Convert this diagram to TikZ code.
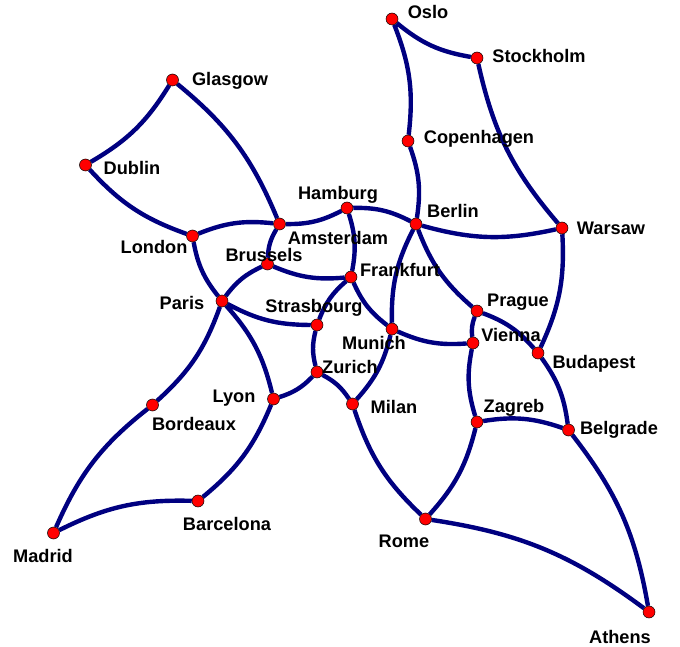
\documentclass[tikz,border=0pt]{standalone}
\usepackage{fontspec}
\setmainfont{Liberation Sans}
\pgfdeclarelayer{edges}
\pgfsetlayers{edges,main}
\definecolor{roadblue}{RGB}{0,0,128}
\tikzset{
  city/.style={circle,draw=black,line width=0.5pt,fill=red,minimum size=12pt,inner sep=0pt},
  lbl/.style={font=\fontsize{18.2}{20}\selectfont\bfseries,text=black,inner sep=0pt},
  road/.style={draw=roadblue,line width=4.4pt},
}
\begin{document}
\begin{tikzpicture}[x=1pt,y=1pt]
\useasboundingbox (0,0) rectangle (680,646);
\node[city] (Oslo) at (392,646-19) {};
\node[city] (Stockholm) at (477,646-58) {};
\node[city] (Copenhagen) at (408,646-141) {};
\node[city] (Glasgow) at (172.5,646-80) {};
\node[city] (Dublin) at (85.5,646-165) {};
\node[city] (Hamburg) at (347,646-208) {};
\node[city] (Berlin) at (416,646-224) {};
\node[city] (Warsaw) at (562,646-228) {};
\node[city] (London) at (192.5,646-236) {};
\node[city] (Amsterdam) at (279.5,646-224) {};
\node[city] (Brussels) at (267.5,646-264) {};
\node[city] (Frankfurt) at (351,646-277) {};
\node[city] (Paris) at (222,646-301) {};
\node[city] (Strasbourg) at (317,646-325) {};
\node[city] (Munich) at (392,646-329) {};
\node[city] (Prague) at (477,646-311) {};
\node[city] (Vienna) at (473,646-343) {};
\node[city] (Budapest) at (538,646-353) {};
\node[city] (Zurich) at (317,646-372) {};
\node[city] (Lyon) at (273.5,646-399) {};
\node[city] (Milan) at (352.5,646-404) {};
\node[city] (Bordeaux) at (152.5,646-405) {};
\node[city] (Zagreb) at (477,646-422) {};
\node[city] (Belgrade) at (568.5,646-430) {};
\node[city] (Barcelona) at (198,646-501) {};
\node[city] (Rome) at (425.5,646-519) {};
\node[city] (Madrid) at (53.5,646-533) {};
\node[city] (Athens) at (649,646-612) {};

\node[lbl] (tOslo) at (428,646-12) {Oslo};
\node[lbl] (tStockholm) at (539,646-56) {Stockholm};
\node[lbl] (tCopenhagen) at (479,646-139) {Copenhagen};
\node[lbl] (tGlasgow) at (230,646-81) {Glasgow};
\node[lbl] (tDublin) at (132,646-168) {Dublin};
\node[lbl] (tHamburg) at (338,646-195) {Hamburg};
\node[lbl] (tBerlin) at (453,646-211) {Berlin};
\node[lbl] (tWarsaw) at (611,646-228) {Warsaw};
\node[lbl] (tLondon) at (154,646-247) {London};
\node[lbl] (tAmsterdam) at (338,646-238) {Amsterdam};
\node[lbl] (tBrussels) at (264,646-255) {Brussels};
\node[lbl] (tFrankfurt) at (400,646-270) {Frankfurt};
\node[lbl] (tParis) at (182,646-303) {Paris};
\node[lbl] (tStrasbourg) at (314,646-308) {Strasbourg};
\node[lbl] (tMunich) at (374,646-343) {Munich};
\node[lbl] (tPrague) at (518,646-302) {Prague};
\node[lbl] (tVienna) at (511,646-335) {Vienna};
\node[lbl] (tBudapest) at (594,646-364) {Budapest};
\node[lbl] (tZurich) at (350,646-367) {Zurich};
\node[lbl] (tLyon) at (234,646-398) {Lyon};
\node[lbl] (tMilan) at (394,646-407) {Milan};
\node[lbl] (tBordeaux) at (194,646-424) {Bordeaux};
\node[lbl] (tZagreb) at (514,646-408) {Zagreb};
\node[lbl] (tBelgrade) at (619,646-430) {Belgrade};
\node[lbl] (tBarcelona) at (227,646-524) {Barcelona};
\node[lbl] (tRome) at (404,646-541) {Rome};
\node[lbl] (tMadrid) at (43,646-556) {Madrid};
\node[lbl] (tAthens) at (620,646-637) {Athens};

\begin{pgfonlayer}{edges}
\path[road]
  (Oslo) to[bend right=15] (Stockholm)
  (Oslo) to[bend left=14] (Copenhagen)
  (Copenhagen) to[bend left=14] (Berlin)
  (Stockholm) to[bend right=14] (Warsaw)
  (Glasgow) to[bend left=14] (Dublin)
  (Glasgow) to[bend left=14] (Amsterdam)
  (Dublin) to[bend right=14] (London)
  (London) to[bend left=14] (Amsterdam)
  (Amsterdam) to[bend right=14] (Hamburg)
  (Hamburg) to[bend left=14] (Berlin)
  (Berlin) to[bend right=14] (Warsaw)
  (Amsterdam) to[bend right=14] (Brussels)
  (London) to[bend right=14] (Paris)
  (Brussels) to[bend right=14] (Paris)
  (Brussels) to[bend right=14] (Frankfurt)
  (Hamburg) to[bend left=14] (Frankfurt)
  (Berlin) to[bend right=14] (Munich)
  (Berlin) to[bend right=14] (Prague)
  (Frankfurt) to[bend right=14] (Munich)
  (Frankfurt) to[bend right=14] (Strasbourg)
  (Paris) to[bend right=14] (Strasbourg)
  (Munich) to[bend right=14] (Vienna)
  (Munich) to[bend left=14] (Milan)
  (Prague) to[bend right=14] (Vienna)
  (Prague) to[bend left=14] (Budapest)
  (Warsaw) to[bend left=14] (Budapest)
  (Vienna) to[bend right=14] (Zagreb)
  (Budapest) to[bend left=14] (Belgrade)
  (Zagreb) to[bend left=14] (Belgrade)
  (Zagreb) to[bend left=14] (Rome)
  (Belgrade) to[bend left=14] (Athens)
  (Rome) to[bend left=14] (Athens)
  (Milan) to[bend right=14] (Rome)
  (Strasbourg) to[bend right=14] (Zurich)
  (Zurich) to[bend left=14] (Lyon)
  (Zurich) to[bend left=14] (Milan)
  (Paris) to[bend left=14] (Lyon)
  (Lyon) to[bend left=14] (Barcelona)
  (Paris) to[bend left=14] (Bordeaux)
  (Bordeaux) to[bend right=14] (Madrid)
  (Madrid) to[bend left=14] (Barcelona);
\end{pgfonlayer}
\end{tikzpicture}
\end{document}
